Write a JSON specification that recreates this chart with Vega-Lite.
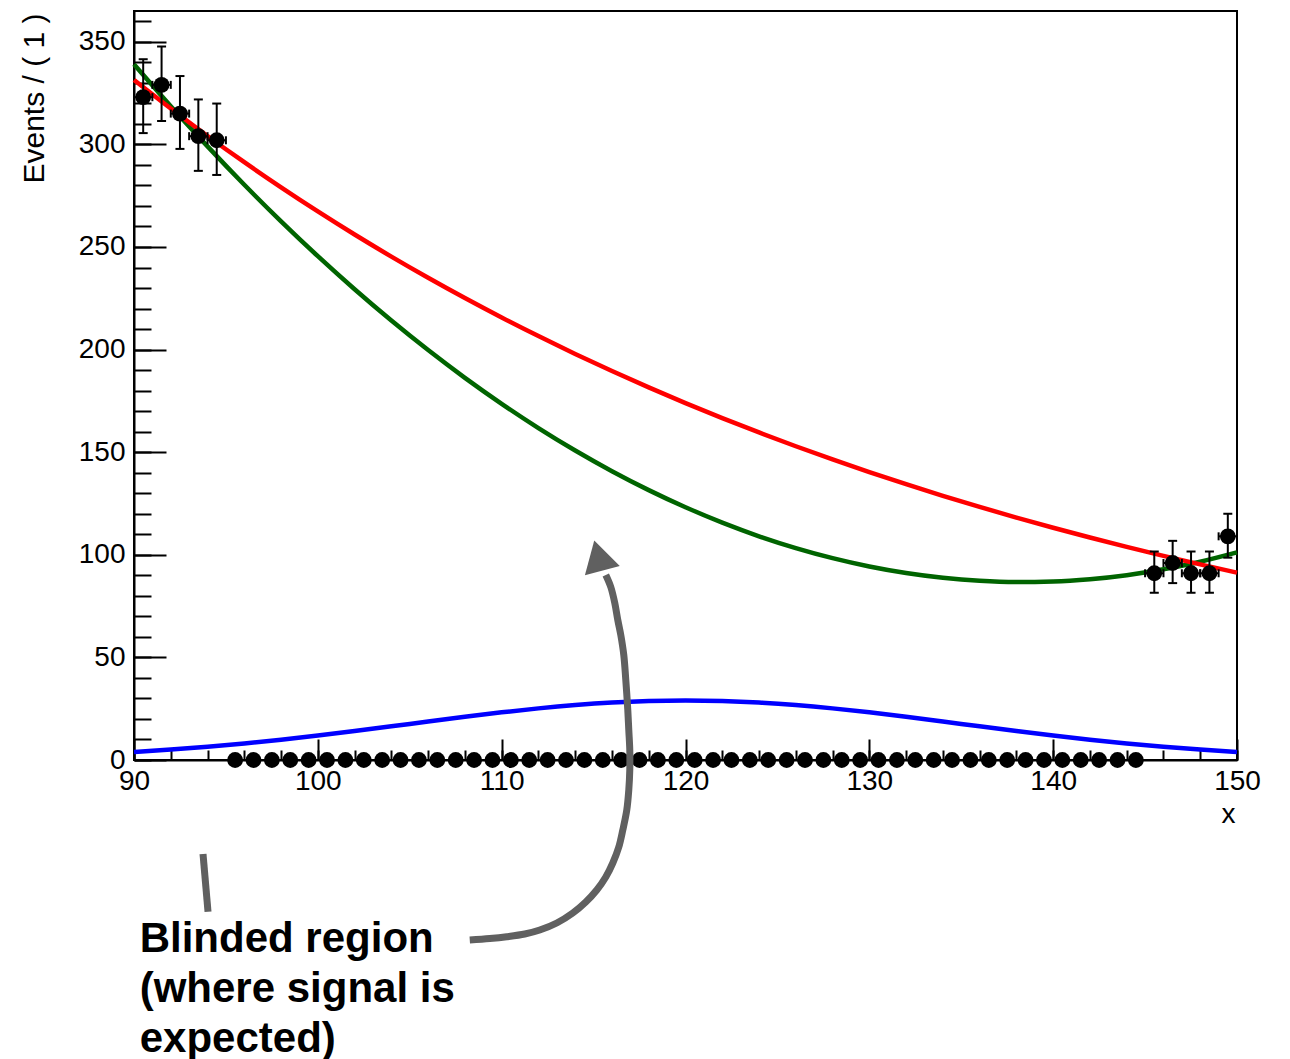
{
  "$schema": "https://vega.github.io/schema/vega-lite/v6.json",
  "width": 1103,
  "height": 749,
  "autosize": {"type": "none"},
  "padding": {"left": 134, "top": 11, "right": 53, "bottom": 299},
  "background": "white",
  "config": {
    "view": {"stroke": "black", "strokeWidth": 2},
    "axis": {"grid": false},
    "font": "Liberation Sans"
  },
  "datasets": {
    "hist": [
      {"x": 90.5, "y": 323, "ylo": 305.5, "yhi": 341.5, "xlo": 90, "xhi": 91},
      {"x": 91.5, "y": 329, "ylo": 311.4, "yhi": 347.7, "xlo": 91, "xhi": 92},
      {"x": 92.5, "y": 315, "ylo": 297.8, "yhi": 333.3, "xlo": 92, "xhi": 93},
      {"x": 93.5, "y": 304, "ylo": 287.1, "yhi": 321.9, "xlo": 93, "xhi": 94},
      {"x": 94.5, "y": 302, "ylo": 285.1, "yhi": 319.9, "xlo": 94, "xhi": 95},
      {"x": 95.5, "y": 0}, {"x": 96.5, "y": 0}, {"x": 97.5, "y": 0}, {"x": 98.5, "y": 0}, {"x": 99.5, "y": 0},
      {"x": 100.5, "y": 0}, {"x": 101.5, "y": 0}, {"x": 102.5, "y": 0}, {"x": 103.5, "y": 0}, {"x": 104.5, "y": 0},
      {"x": 105.5, "y": 0}, {"x": 106.5, "y": 0}, {"x": 107.5, "y": 0}, {"x": 108.5, "y": 0}, {"x": 109.5, "y": 0},
      {"x": 110.5, "y": 0}, {"x": 111.5, "y": 0}, {"x": 112.5, "y": 0}, {"x": 113.5, "y": 0}, {"x": 114.5, "y": 0},
      {"x": 115.5, "y": 0}, {"x": 116.5, "y": 0}, {"x": 117.5, "y": 0}, {"x": 118.5, "y": 0}, {"x": 119.5, "y": 0},
      {"x": 120.5, "y": 0}, {"x": 121.5, "y": 0}, {"x": 122.5, "y": 0}, {"x": 123.5, "y": 0}, {"x": 124.5, "y": 0},
      {"x": 125.5, "y": 0}, {"x": 126.5, "y": 0}, {"x": 127.5, "y": 0}, {"x": 128.5, "y": 0}, {"x": 129.5, "y": 0},
      {"x": 130.5, "y": 0}, {"x": 131.5, "y": 0}, {"x": 132.5, "y": 0}, {"x": 133.5, "y": 0}, {"x": 134.5, "y": 0},
      {"x": 135.5, "y": 0}, {"x": 136.5, "y": 0}, {"x": 137.5, "y": 0}, {"x": 138.5, "y": 0}, {"x": 139.5, "y": 0},
      {"x": 140.5, "y": 0}, {"x": 141.5, "y": 0}, {"x": 142.5, "y": 0}, {"x": 143.5, "y": 0}, {"x": 144.5, "y": 0},
      {"x": 145.5, "y": 91, "ylo": 81.5, "yhi": 101.6, "xlo": 145, "xhi": 146},
      {"x": 146.5, "y": 96, "ylo": 86.2, "yhi": 106.8, "xlo": 146, "xhi": 147},
      {"x": 147.5, "y": 91, "ylo": 81.5, "yhi": 101.6, "xlo": 147, "xhi": 148},
      {"x": 148.5, "y": 91, "ylo": 81.5, "yhi": 101.6, "xlo": 148, "xhi": 149},
      {"x": 149.5, "y": 109, "ylo": 98.6, "yhi": 120.0, "xlo": 149, "xhi": 150}
    ],
    "curves": [
      {"s": "sig", "x": 90, "y": 3.92}, {"s": "sig", "x": 92, "y": 5.08}, {"s": "sig", "x": 94, "y": 6.46},
      {"s": "sig", "x": 96, "y": 8.06}, {"s": "sig", "x": 98, "y": 9.89}, {"s": "sig", "x": 100, "y": 11.92},
      {"s": "sig", "x": 102, "y": 14.12}, {"s": "sig", "x": 104, "y": 16.42}, {"s": "sig", "x": 106, "y": 18.76},
      {"s": "sig", "x": 108, "y": 21.06}, {"s": "sig", "x": 110, "y": 23.22}, {"s": "sig", "x": 112, "y": 25.16},
      {"s": "sig", "x": 114, "y": 26.77}, {"s": "sig", "x": 116, "y": 27.99}, {"s": "sig", "x": 118, "y": 28.74},
      {"s": "sig", "x": 120, "y": 29.0}, {"s": "sig", "x": 122, "y": 28.74}, {"s": "sig", "x": 124, "y": 27.99},
      {"s": "sig", "x": 126, "y": 26.77}, {"s": "sig", "x": 128, "y": 25.16}, {"s": "sig", "x": 130, "y": 23.22},
      {"s": "sig", "x": 132, "y": 21.06}, {"s": "sig", "x": 134, "y": 18.76}, {"s": "sig", "x": 136, "y": 16.42},
      {"s": "sig", "x": 138, "y": 14.12}, {"s": "sig", "x": 140, "y": 11.92}, {"s": "sig", "x": 142, "y": 9.89},
      {"s": "sig", "x": 144, "y": 8.06}, {"s": "sig", "x": 146, "y": 6.46}, {"s": "sig", "x": 148, "y": 5.08},
      {"s": "sig", "x": 150, "y": 3.92},
      {"s": "poly", "x": 90, "y": 338.99}, {"s": "poly", "x": 92, "y": 318.57}, {"s": "poly", "x": 94, "y": 299.02},
      {"s": "poly", "x": 96, "y": 280.32}, {"s": "poly", "x": 98, "y": 262.48}, {"s": "poly", "x": 100, "y": 245.51},
      {"s": "poly", "x": 102, "y": 229.40}, {"s": "poly", "x": 104, "y": 214.15}, {"s": "poly", "x": 106, "y": 199.76},
      {"s": "poly", "x": 108, "y": 186.23}, {"s": "poly", "x": 110, "y": 173.57}, {"s": "poly", "x": 112, "y": 161.76},
      {"s": "poly", "x": 114, "y": 150.82}, {"s": "poly", "x": 116, "y": 140.74}, {"s": "poly", "x": 118, "y": 131.52},
      {"s": "poly", "x": 120, "y": 123.16}, {"s": "poly", "x": 122, "y": 115.67}, {"s": "poly", "x": 124, "y": 109.03},
      {"s": "poly", "x": 126, "y": 103.26}, {"s": "poly", "x": 128, "y": 98.35}, {"s": "poly", "x": 130, "y": 94.30},
      {"s": "poly", "x": 132, "y": 91.11}, {"s": "poly", "x": 134, "y": 88.79}, {"s": "poly", "x": 136, "y": 87.32},
      {"s": "poly", "x": 138, "y": 86.72}, {"s": "poly", "x": 140, "y": 86.98}, {"s": "poly", "x": 142, "y": 88.10},
      {"s": "poly", "x": 144, "y": 90.08}, {"s": "poly", "x": 146, "y": 92.92}, {"s": "poly", "x": 148, "y": 96.63},
      {"s": "poly", "x": 150, "y": 101.19},
      {"s": "expo", "x": 90, "y": 331.4}, {"s": "expo", "x": 92, "y": 317.46}, {"s": "expo", "x": 94, "y": 304.11},
      {"s": "expo", "x": 96, "y": 291.32}, {"s": "expo", "x": 98, "y": 279.07}, {"s": "expo", "x": 100, "y": 267.33},
      {"s": "expo", "x": 102, "y": 256.08}, {"s": "expo", "x": 104, "y": 245.31}, {"s": "expo", "x": 106, "y": 234.99},
      {"s": "expo", "x": 108, "y": 225.11}, {"s": "expo", "x": 110, "y": 215.64}, {"s": "expo", "x": 112, "y": 206.57},
      {"s": "expo", "x": 114, "y": 197.88}, {"s": "expo", "x": 116, "y": 189.55}, {"s": "expo", "x": 118, "y": 181.58},
      {"s": "expo", "x": 120, "y": 173.94}, {"s": "expo", "x": 122, "y": 166.63}, {"s": "expo", "x": 124, "y": 159.62},
      {"s": "expo", "x": 126, "y": 152.90}, {"s": "expo", "x": 128, "y": 146.47}, {"s": "expo", "x": 130, "y": 140.31},
      {"s": "expo", "x": 132, "y": 134.41}, {"s": "expo", "x": 134, "y": 128.75}, {"s": "expo", "x": 136, "y": 123.34},
      {"s": "expo", "x": 138, "y": 118.15}, {"s": "expo", "x": 140, "y": 113.18}, {"s": "expo", "x": 142, "y": 108.42},
      {"s": "expo", "x": 144, "y": 103.86}, {"s": "expo", "x": 146, "y": 99.49}, {"s": "expo", "x": 148, "y": 95.31},
      {"s": "expo", "x": 150, "y": 91.30}
    ],
    "arrow": [
      {"o": 1, "x": 108.264, "y": -87.72}, {"o": 2, "x": 109.353, "y": -86.99}, {"o": 3, "x": 110.277, "y": -86.11},
      {"o": 4, "x": 111.257, "y": -84.80}, {"o": 5, "x": 112.073, "y": -82.85}, {"o": 6, "x": 112.998, "y": -79.43},
      {"o": 7, "x": 113.869, "y": -74.56}, {"o": 8, "x": 114.576, "y": -69.20}, {"o": 9, "x": 115.174, "y": -63.35},
      {"o": 10, "x": 115.664, "y": -57.02}, {"o": 11, "x": 116.045, "y": -50.19}, {"o": 12, "x": 116.371, "y": -42.40},
      {"o": 13, "x": 116.589, "y": -34.11}, {"o": 14, "x": 116.806, "y": -24.37}, {"o": 15, "x": 116.915, "y": -14.62},
      {"o": 16, "x": 116.969, "y": -4.87}, {"o": 17, "x": 116.969, "y": 4.87}, {"o": 18, "x": 116.915, "y": 14.62},
      {"o": 19, "x": 116.861, "y": 24.37}, {"o": 20, "x": 116.752, "y": 38.99}, {"o": 21, "x": 116.643, "y": 51.17},
      {"o": 22, "x": 116.480, "y": 60.92}, {"o": 23, "x": 116.317, "y": 68.23}, {"o": 24, "x": 116.153, "y": 76.51},
      {"o": 25, "x": 115.936, "y": 84.31}, {"o": 26, "x": 115.664, "y": 90.16}
    ],
    "stub": [
      {"o": 1, "x": 93.754, "y": -45.81},
      {"o": 2, "x": 94.026, "y": -73.93}
    ],
    "head": [
      {"x": 115.256, "y": 99.66}
    ],
    "note": [
      {"x": 90.31, "y": -93.57, "t": "Blinded region\n(where signal is\nexpected)"}
    ]
  },
  "layer": [
    {
      "data": {"name": "curves"},
      "mark": {"type": "line", "strokeWidth": 4.5, "interpolate": "monotone"},
      "encoding": {
        "x": {"field": "x", "type": "quantitative",
              "scale": {"domain": [90, 150], "nice": false, "zero": false},
              "axis": {"orient": "bottom", "labels": false, "domain": false, "ticks": true, "tickSize": -21, "tickWidth": 2, "tickColor": "black", "values": [90, 100, 110, 120, 130, 140, 150], "title": null, "grid": false}},
        "y": {"field": "y", "type": "quantitative",
              "scale": {"domain": [0, 365], "nice": false, "zero": false},
              "axis": {"orient": "left", "labels": false, "domain": false, "ticks": true, "tickSize": -32, "tickWidth": 2, "tickColor": "black", "values": [0, 50, 100, 150, 200, 250, 300, 350], "title": null, "grid": false}},
        "color": {"field": "s", "type": "nominal",
                  "scale": {"domain": ["sig", "poly", "expo"], "range": ["#0000ff", "#006400", "#ff0000"]},
                  "legend": null}
      }
    },
    {
      "data": {"name": "hist"},
      "transform": [{"filter": "datum.y > 0"}],
      "mark": {"type": "rule", "strokeWidth": 2, "color": "black"},
      "encoding": {
        "x": {"field": "x", "type": "quantitative",
              "scale": {"domain": [90, 150], "nice": false, "zero": false},
              "axis": {"orient": "bottom", "labels": false, "domain": false, "ticks": true, "tickSize": -10, "tickWidth": 2, "tickColor": "black", "values": [90, 92, 94, 96, 98, 100, 102, 104, 106, 108, 110, 112, 114, 116, 118, 120, 122, 124, 126, 128, 130, 132, 134, 136, 138, 140, 142, 144, 146, 148, 150], "title": null, "grid": false}},
        "y": {"field": "ylo", "type": "quantitative",
              "scale": {"domain": [0, 365], "nice": false, "zero": false},
              "axis": {"orient": "left", "labels": false, "domain": false, "ticks": true, "tickSize": -17, "tickWidth": 2, "tickColor": "black", "values": [0, 10, 20, 30, 40, 50, 60, 70, 80, 90, 100, 110, 120, 130, 140, 150, 160, 170, 180, 190, 200, 210, 220, 230, 240, 250, 260, 270, 280, 290, 300, 310, 320, 330, 340, 350, 360], "title": null, "grid": false}},
        "y2": {"field": "yhi"}
      }
    },
    {
      "data": {"name": "hist"},
      "transform": [{"filter": "datum.y > 0"}],
      "mark": {"type": "rule", "strokeWidth": 2, "color": "black"},
      "encoding": {
        "x": {"field": "xlo", "type": "quantitative", "scale": {"domain": [90, 150], "nice": false, "zero": false}, "axis": null},
        "x2": {"field": "xhi"},
        "y": {"field": "y", "type": "quantitative", "scale": {"domain": [0, 365], "nice": false, "zero": false}, "axis": null}
      }
    },
    {
      "data": {"name": "hist"},
      "transform": [{"filter": "datum.y > 0"}, {"fold": ["ylo", "yhi"], "as": ["k", "cy"]}],
      "mark": {"type": "tick", "orient": "horizontal", "size": 9, "thickness": 2, "color": "black", "opacity": 1},
      "encoding": {
        "x": {"field": "x", "type": "quantitative", "scale": {"domain": [90, 150], "nice": false, "zero": false}, "axis": null},
        "y": {"field": "cy", "type": "quantitative", "scale": {"domain": [0, 365], "nice": false, "zero": false}, "axis": null}
      }
    },
    {
      "data": {"name": "hist"},
      "transform": [{"filter": "datum.y > 0"}, {"fold": ["xlo", "xhi"], "as": ["k", "cx"]}],
      "mark": {"type": "tick", "orient": "vertical", "size": 8, "thickness": 2, "color": "black", "opacity": 1},
      "encoding": {
        "x": {"field": "cx", "type": "quantitative", "scale": {"domain": [90, 150], "nice": false, "zero": false}, "axis": null},
        "y": {"field": "y", "type": "quantitative", "scale": {"domain": [0, 365], "nice": false, "zero": false}, "axis": null}
      }
    },
    {
      "data": {"name": "hist"},
      "mark": {"type": "point", "filled": true, "size": 250, "color": "black", "opacity": 1, "strokeWidth": 0, "clip": false},
      "encoding": {
        "x": {"field": "x", "type": "quantitative",
              "scale": {"domain": [90, 150], "nice": false, "zero": false},
              "axis": {"orient": "bottom", "ticks": false, "domain": true, "domainColor": "black", "domainWidth": 2,
                       "values": [90, 100, 110, 120, 130, 140, 150], "labelFont": "Liberation Sans", "labelFontSize": 28,
                       "labelColor": "black", "labelPadding": 7, "labelFlush": false, "labelOverlap": false, "grid": false,
                       "title": "x", "titleFont": "Liberation Sans", "titleFontSize": 28, "titleFontWeight": "normal",
                       "titleColor": "black", "titleAlign": "right", "titleBaseline": "alphabetic", "titleAngle": 0,
                       "titleX": 1101, "titleY": 62}},
        "y": {"field": "y", "type": "quantitative",
              "scale": {"domain": [0, 365], "nice": false, "zero": false},
              "axis": {"orient": "left", "ticks": false, "domain": true, "domainColor": "black", "domainWidth": 2,
                       "values": [0, 50, 100, 150, 200, 250, 300, 350], "labelFont": "Liberation Sans", "labelFontSize": 28,
                       "labelColor": "black", "labelPadding": 9, "labelFlush": false, "labelOverlap": false, "grid": false,
                       "title": "Events / ( 1 )", "titleFont": "Liberation Sans", "titleFontSize": 30, "titleFontWeight": "normal",
                       "titleColor": "black", "titleAlign": "right", "titleBaseline": "alphabetic", "titleAngle": -90,
                       "titleX": -91, "titleY": 2}}
      }
    },
    {
      "data": {"name": "arrow"},
      "mark": {"type": "line", "strokeWidth": 7, "color": "#606060", "strokeCap": "butt", "interpolate": "catmull-rom", "clip": false},
      "encoding": {
        "x": {"field": "x", "type": "quantitative", "scale": {"domain": [90, 150], "nice": false, "zero": false}, "axis": null},
        "y": {"field": "y", "type": "quantitative", "scale": {"domain": [0, 365], "nice": false, "zero": false}, "axis": null},
        "order": {"field": "o", "type": "quantitative"}
      }
    },
    {
      "data": {"name": "stub"},
      "mark": {"type": "line", "strokeWidth": 7, "color": "#606060", "strokeCap": "butt", "clip": false},
      "encoding": {
        "x": {"field": "x", "type": "quantitative", "scale": {"domain": [90, 150], "nice": false, "zero": false}, "axis": null},
        "y": {"field": "y", "type": "quantitative", "scale": {"domain": [0, 365], "nice": false, "zero": false}, "axis": null},
        "order": {"field": "o", "type": "quantitative"}
      }
    },
    {
      "data": {"name": "head"},
      "mark": {"type": "point", "shape": "triangle-up", "filled": true, "size": 1300, "angle": -15, "color": "#606060", "opacity": 1, "strokeWidth": 0, "clip": false},
      "encoding": {
        "x": {"field": "x", "type": "quantitative", "scale": {"domain": [90, 150], "nice": false, "zero": false}, "axis": null},
        "y": {"field": "y", "type": "quantitative", "scale": {"domain": [0, 365], "nice": false, "zero": false}, "axis": null}
      }
    },
    {
      "data": {"name": "note"},
      "mark": {"type": "text", "font": "Liberation Sans", "fontWeight": "bold", "fontSize": 42, "align": "left", "baseline": "alphabetic", "lineBreak": "\n", "lineHeight": 50, "color": "black", "clip": false},
      "encoding": {
        "x": {"field": "x", "type": "quantitative", "scale": {"domain": [90, 150], "nice": false, "zero": false}, "axis": null},
        "y": {"field": "y", "type": "quantitative", "scale": {"domain": [0, 365], "nice": false, "zero": false}, "axis": null},
        "text": {"field": "t"}
      }
    }
  ],
  "resolve": {"axis": {"x": "independent", "y": "independent"}}
}
